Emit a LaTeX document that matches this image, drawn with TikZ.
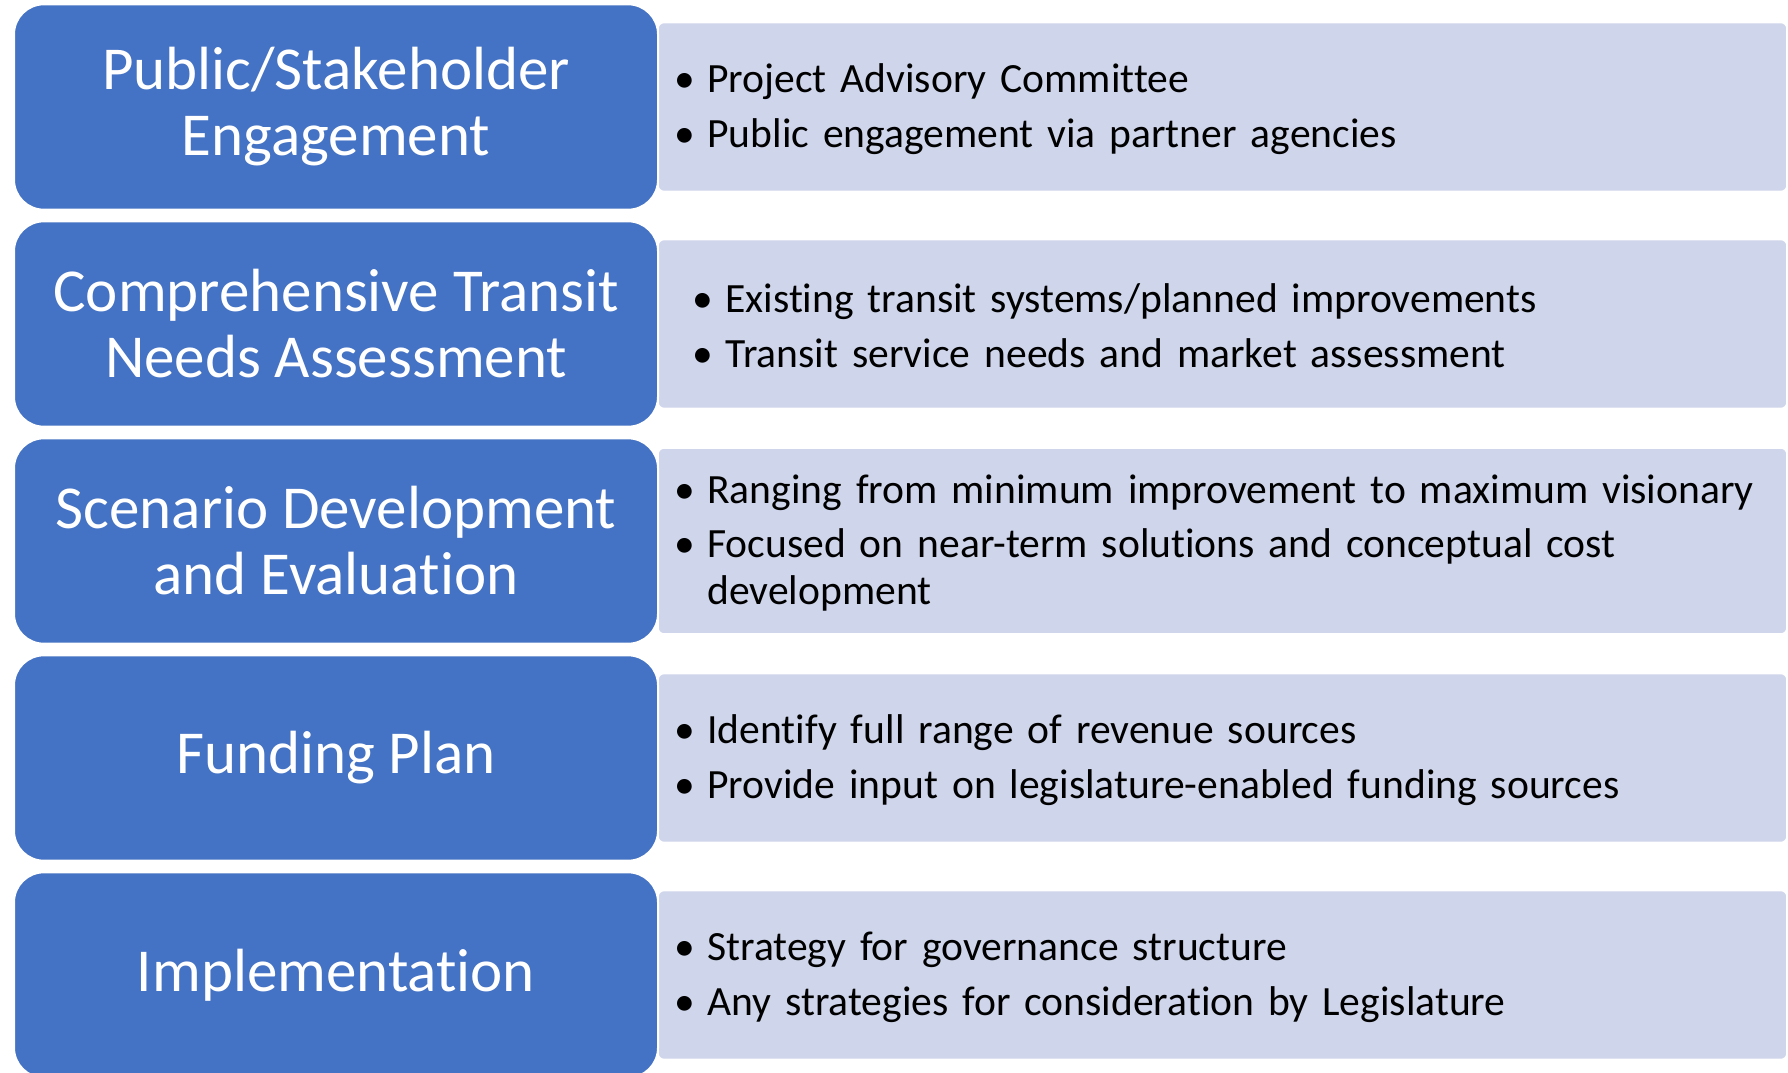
\documentclass[tikz,border=0pt]{standalone}
\usepackage{fontspec}
\setmainfont[Ligatures={NoCommon}]{Carlito}
\usepackage{tikz}
\definecolor{stageblue}{HTML}{4472C4}
\definecolor{detailblue}{HTML}{CFD5EA}
\newcommand{\itm}[1]{\hangindent=16.5pt\hangafter=1\noindent\makebox[16.5pt][l]{\textbullet}#1\par}

\begin{document}
\begin{tikzpicture}[x=0.5pt,y=-0.5pt,
		stage/.style = {draw=white,line width=1pt,fill=stageblue,rounded corners=15pt,text=white,minimum width=322pt,minimum height=102.7pt,align=center,font=\fontsize{30.5}{33}\selectfont},
		detail/.style = {draw=white,line width=0.8pt,fill=detailblue,rounded corners=3pt,minimum width=564.5pt,minimum height=84.5pt},
		items/.style = {anchor=west,inner sep=0pt,text width=545pt,align=left,font=\fontsize{20.8}{23.4}\selectfont,execute at begin node={\setlength{\parskip}{4pt}}}
		]
		\useasboundingbox (0,0) rectangle (1788,1072);
		%dettagli
		\node[detail] (eng-bg) at (1222.5,107) {};
		\node[detail] (needs-bg) at (1222.5,324) {};
		\node[detail,minimum height=93pt] (scen-bg) at (1222.5,541) {};
		\node[detail] (fund-bg) at (1222.5,758) {};
		\node[detail] (impl-bg) at (1222.5,975) {};
		%fasi
		\node[stage] (eng) at (336,107) {Public/Stakeholder\\Engagement};
		\node[stage] (needs) at (336,324) {Comprehensive Transit\\Needs Assessment};
		\node[stage] (scen) at (336,541) {Scenario Development\\and Evaluation};
		\node[stage] (fund) at (336,758) {Funding Plan};
		\node[stage] (impl) at (336,975) {Implementation};
		%elenchi
		\node[items] (eng-txt) at (674,109) {\itm{Project Advisory Committee}\itm{Public engagement via partner agencies}};
		\node[items] (needs-txt) at (692,326) {\itm{Existing transit systems/planned improvements}\itm{Transit service needs and market assessment}};
		\node[items] (scen-txt) at (674,543) {\itm{Ranging from minimum improvement to maximum visionary}\itm{Focused on near-term solutions and conceptual cost\newline development}};
		\node[items] (fund-txt) at (674,760) {\itm{Identify full range of revenue sources}\itm{Provide input on legislature-enabled funding sources}};
		\node[items] (impl-txt) at (674,977) {\itm{Strategy for governance structure}\itm{Any strategies for consideration by Legislature}};
	\end{tikzpicture}
\end{document}
